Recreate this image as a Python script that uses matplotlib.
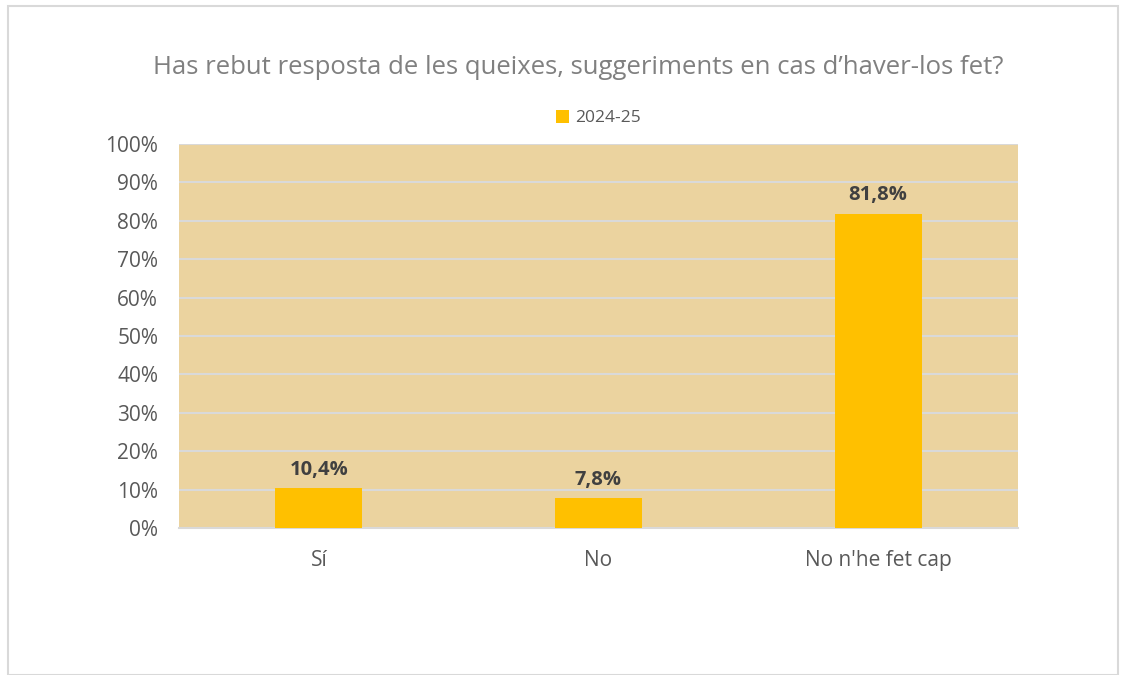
import matplotlib.pyplot as plt
from matplotlib.patches import Rectangle

# categories and answers (share of respondents)
categories = ["Sí", "No", "No n'he fet cap"]
values = [10.4, 7.8, 81.8]
labels = ["10,4%", "7,8%", "81,8%"]
series_name = "2024-25"

plt.rcParams['font.family'] = ['Open Sans', 'DejaVu Sans']

fig = plt.figure(figsize=(11.24, 6.75), dpi=100)
fig.patches.append(Rectangle((8 / 1124, 0), 1110 / 1124, 669 / 675, transform=fig.transFigure,
                             fill=False, edgecolor="#D9D9D9", linewidth=1.5))

ax = fig.add_axes([179 / 1124, 1 - 528 / 675, 839 / 1124, 384 / 675])
ax.set_facecolor("#EBD39F")

x = range(len(categories))
ax.bar(x, values, width=0.31, color="#FFC000", label=series_name, zorder=3)
for xi, v, lab in zip(x, values, labels):
    ax.text(xi, v + 2.2, lab, ha="center", va="bottom", fontsize=14.5,
            fontweight="bold", color="#404040", zorder=4)

ax.set_xlim(-0.5, 2.5)
ax.set_ylim(0, 100)
ax.set_yticks(range(0, 101, 10))
ax.set_yticklabels([f"{t}%" for t in range(0, 101, 10)])
ax.set_xticks(list(x))
ax.set_xticklabels(categories)
ax.tick_params(axis="both", length=0, labelsize=15, labelcolor="#595959")
ax.tick_params(axis="x", pad=16)
ax.tick_params(axis="y", pad=15)
ax.grid(axis="y", color="#D9D9D9", linewidth=1.5, zorder=1)
for s in ["left", "right", "top"]:
    ax.spines[s].set_visible(False)
ax.spines["bottom"].set_color("#D9D9D9")
ax.spines["bottom"].set_linewidth(1.5)

fig.text(578 / 1124, 1 - 67 / 675, "Has rebut resposta de les queixes, suggeriments en cas d\u2019haver-los fet?",
         ha="center", va="center", fontsize=18.5, color="#808080")
fig.legend(loc="center", bbox_to_anchor=(598 / 1124, 1 - 118 / 675), frameon=False,
           fontsize=12.5, handlelength=0.8, handleheight=0.8, handletextpad=0.3,
           labelcolor="#595959")

fig.savefig("out.png", dpi=100)
